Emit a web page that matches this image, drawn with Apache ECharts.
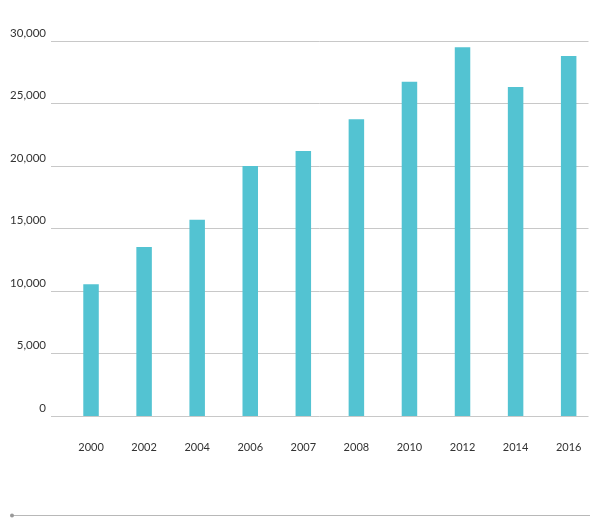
<!DOCTYPE html>
<html>
<head>
<meta charset="utf-8">
<script src="https://cdn.jsdelivr.net/npm/echarts@6/dist/echarts.min.js"></script>
<style>
html,body{margin:0;padding:0;background:#fff;}
#c{width:600px;height:522px;}
</style>
</head>
<body>
<div id="c"></div>
<script>
const categories = ['2000','2002','2004','2006','2007','2008','2010','2012','2014','2016'];
const values = [10550, 13530, 15700, 20000, 21200, 23750, 26750, 29500, 26320, 28800];
const yMin = 0, yMax = 30000, yStep = 5000;

const chart = echarts.init(document.getElementById('c'), null, {renderer:'canvas'});
const font = 'Lato, "Liberation Sans", sans-serif';
chart.setOption({
  animation: false,
  backgroundColor: '#ffffff',
  grid: [
    {left: 51, right: 11.5, top: 41, bottom: 106},
    {left: 64.5, right: 4.8, top: 41, bottom: 106}
  ],
  xAxis: [
    {gridIndex: 0, type: 'category', data: categories, show: false},
    {gridIndex: 1, type: 'category', data: categories,
     axisLine: {show: false}, axisTick: {show: false},
     axisLabel: {color: '#333', fontSize: 11, fontFamily: font, margin: 26}}
  ],
  yAxis: [
    {gridIndex: 0, type: 'value', min: yMin, max: yMax, interval: yStep,
     axisLine: {show: false}, axisTick: {show: false},
     axisLabel: {color: '#333', fontSize: 11.5, fontFamily: font, margin: 5,
       verticalAlign: 'bottom', padding: [0,0,2,0],
       formatter: v => v.toLocaleString('en-US')},
     splitLine: {lineStyle: {color: '#c8c8c8', width: 1}}},
    {gridIndex: 1, type: 'value', min: yMin, max: yMax, interval: yStep, show: false,
     splitLine: {show: false}}
  ],
  series: [{
    type: 'bar', xAxisIndex: 1, yAxisIndex: 1, data: values,
    barWidth: 15.5,
    itemStyle: {color: '#53c3d2'}
  }],
  graphic: [
    {type: 'line', shape: {x1: 12, y1: 515.5, x2: 590, y2: 515.5},
     style: {stroke: '#b8b8b8', lineWidth: 1}},
    {type: 'circle', shape: {cx: 12, cy: 515.5, r: 2},
     style: {fill: '#999'}}
  ]
});
</script>
</body>
</html>
